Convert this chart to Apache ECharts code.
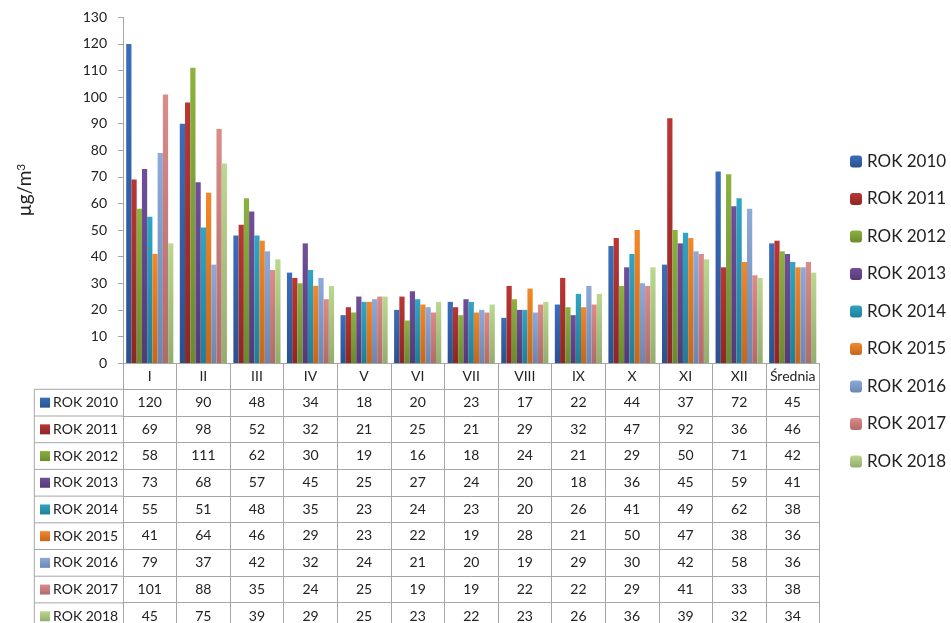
<!DOCTYPE html>
<html><head><meta charset="utf-8">
<script src="https://cdn.jsdelivr.net/npm/echarts@6/dist/echarts.min.js"></script>
<style>html,body{margin:0;padding:0;background:#fff}#c{width:951px;height:623px}</style>
</head><body><div id="c"></div>
<script>
const categories = ['I','II','III','IV','V','VI','VII','VIII','IX','X','XI','XII','Średnia'];
const seriesNames = ['ROK 2010','ROK 2011','ROK 2012','ROK 2013','ROK 2014','ROK 2015','ROK 2016','ROK 2017','ROK 2018'];
const rok2010 = [120, 90, 48, 34, 18, 20, 23, 17, 22, 44, 37, 72, 45];
const rok2011 = [69, 98, 52, 32, 21, 25, 21, 29, 32, 47, 92, 36, 46];
const rok2012 = [58, 111, 62, 30, 19, 16, 18, 24, 21, 29, 50, 71, 42];
const rok2013 = [73, 68, 57, 45, 25, 27, 24, 20, 18, 36, 45, 59, 41];
const rok2014 = [55, 51, 48, 35, 23, 24, 23, 20, 26, 41, 49, 62, 38];
const rok2015 = [41, 64, 46, 29, 23, 22, 19, 28, 21, 50, 47, 38, 36];
const rok2016 = [79, 37, 42, 32, 24, 21, 20, 19, 29, 30, 42, 58, 36];
const rok2017 = [101, 88, 35, 24, 25, 19, 19, 22, 22, 29, 41, 33, 38];
const rok2018 = [45, 75, 39, 29, 25, 23, 22, 23, 26, 36, 39, 32, 34];
const yTicks = {min: 0, max: 130, interval: 10};

const allData = [rok2010, rok2011, rok2012, rok2013, rok2014, rok2015, rok2016, rok2017, rok2018];
const topColors = ['#3A6EBA','#BA3634','#8CB240','#714E9A','#30A5C5','#F28828','#8DAADA','#DC8B89','#BBD890'];
const botColors = ['#2A5190','#8C2725','#6A8A30','#553A76','#217D97','#C6671B','#6C86B0','#B06B69','#93AD6F'];
function grad(i){ return {type:'linear',x:0,y:0,x2:0,y2:1,colorStops:[{offset:0,color:topColors[i]},{offset:1,color:botColors[i]}]}; }

const FONT = 'Lato';
const LINE = '#a6a6a6';
const HEADER_H = 26;
const RH = 26.7;
const GRID_LEFT = 123, GRID_TOP = 17.3, GRID_RIGHT = 131.5, GRID_BOTTOM = 259.7;

const chart = echarts.init(document.getElementById('c'), null, {renderer:'canvas'});

const xAxes = [{
  type:'category', data: categories, gridIndex:0, position:'bottom',
  axisLine:{show:true, lineStyle:{color:LINE, width:1}},
  axisTick:{show:true, interval:0, length:HEADER_H, lineStyle:{color:LINE}},
  axisLabel:{interval:0, margin:HEADER_H/2, verticalAlign:'middle', fontFamily:FONT, fontSize:14, color:'#222'},
  splitLine:{show:false}
}];
allData.forEach((arr, k) => {
  xAxes.push({
    type:'category', data: categories, gridIndex:0, position:'bottom', offset: HEADER_H + RH*k,
    axisLine:{show:true, lineStyle:{color:LINE, width:1}},
    axisTick:{show:true, interval:0, length:RH, lineStyle:{color:LINE}},
    axisLabel:{interval:0, margin:RH/2, verticalAlign:'middle', fontFamily:FONT, fontSize:14, color:'#222',
      formatter:(v, idx) => String(arr[idx])},
    splitLine:{show:false}
  });
});

const graphic = [];
const tableTop = 363.3 + HEADER_H;
const tableLeft = 34.3;
for (let k = 0; k < seriesNames.length; k++) {
  const y = tableTop + RH*k;
  graphic.push({type:'line', shape:{x1:tableLeft, y1:y, x2:GRID_LEFT, y2:y}, style:{stroke:LINE, lineWidth:1}});
  graphic.push({type:'rect', shape:{x:40, y:y + RH/2 - 5, width:10, height:10}, style:{fill:grad(k)}});
  graphic.push({type:'text', x:53, y:y + RH/2, style:{text:seriesNames[k], font:'14px '+FONT, fill:'#222', textVerticalAlign:'middle'}});
}
graphic.push({type:'line', shape:{x1:tableLeft, y1:tableTop, x2:tableLeft, y2:623}, style:{stroke:LINE, lineWidth:1}});

chart.setOption({
  animation:false,
  backgroundColor:'#fff',
  textStyle:{fontFamily:FONT},
  grid:{left:GRID_LEFT, top:GRID_TOP, right:GRID_RIGHT, bottom:GRID_BOTTOM, containLabel:false},
  legend:{
    orient:'vertical', left:845, top:148, itemWidth:12, itemHeight:12, itemGap:20.5,
    data: seriesNames,
    textStyle:{fontFamily:FONT, fontSize:17, color:'#222', lineHeight:16}
  },
  xAxis: xAxes,
  yAxis:{
    type:'value', min:yTicks.min, max:yTicks.max, interval:yTicks.interval,
    name:'µg/m{sup|3}', nameLocation:'middle', nameGap:88, nameRotate:90,
    nameTextStyle:{fontFamily:FONT, fontSize:19, color:'#222',
      rich:{sup:{fontFamily:FONT, fontSize:12, color:'#222', verticalAlign:'top', padding:[0,0,8,0]}}},
    axisLine:{show:true, lineStyle:{color:LINE}},
    axisTick:{show:true, length:5, lineStyle:{color:LINE}},
    axisLabel:{fontFamily:FONT, fontSize:14, color:'#222', margin:16},
    splitLine:{show:false}
  },
  series: allData.map((arr, i) => ({
    name: seriesNames[i], type:'bar', data: arr, xAxisIndex:0,
    barGap:'0%', barCategoryGap:'12%',
    itemStyle:{color: grad(i)}
  })),
  graphic: graphic
});
</script></body></html>
